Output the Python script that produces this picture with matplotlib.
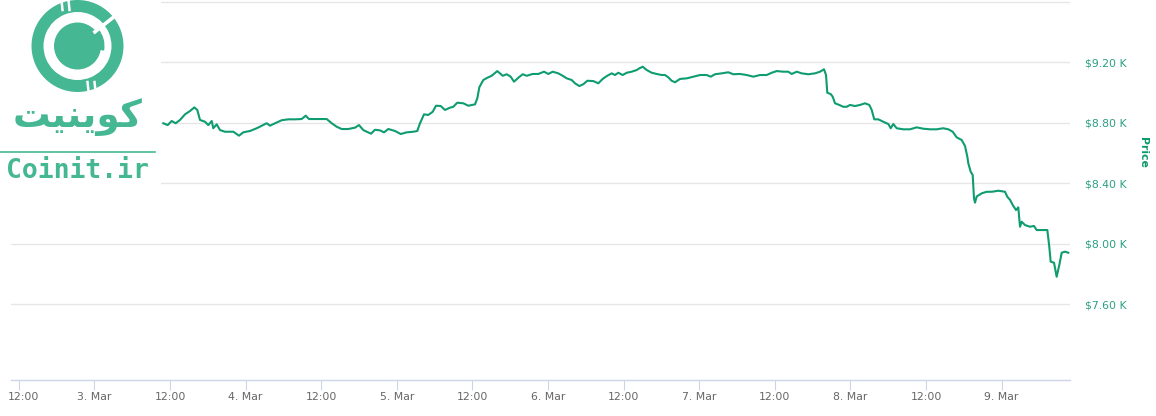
import matplotlib
matplotlib.use('Agg')
import matplotlib.pyplot as plt
import matplotlib.transforms as mtransforms
from matplotlib.patches import Wedge, Circle, Rectangle

# ---------------- data (hours since 2 Mar 2020 00:00, price in thousand USD) ----------
hours = [
    34.94, 35.63, 36.27, 36.90, 37.59, 38.38, 39.17, 39.86, 40.33, 40.76,
    41.56, 42.08, 42.62, 42.87, 43.41, 43.94, 44.73, 46.05, 46.95, 47.63,
    48.70, 49.76, 50.56, 51.35, 51.87, 52.67, 53.73, 54.78, 55.84, 56.90,
    57.54, 58.06, 59.02, 60.08, 60.87, 61.67, 62.46, 63.25, 64.30, 65.37,
    66.00, 66.68, 67.90, 68.54, 69.33, 69.97, 70.65, 71.71, 72.62, 73.57,
    74.62, 75.25, 75.68, 76.32, 77.00, 77.70, 78.22, 78.97, 79.65, 80.44,
    80.97, 81.60, 82.56, 83.35, 84.41, 84.78, 85.10, 85.73, 86.37, 87.06,
    87.95, 88.81, 89.44, 90.08, 90.60, 91.29, 91.98, 92.62, 93.57, 94.46,
    95.37, 96.05, 96.75, 97.63, 98.33, 98.97, 99.76, 100.29, 100.97, 101.60,
    102.24, 103.19, 103.98, 104.68, 105.32, 105.84, 106.11, 106.63, 107.16, 107.86,
    108.49, 109.29, 110.08, 110.49, 111.03, 111.67, 112.46, 113.25, 114.05, 114.57,
    115.09, 115.63, 116.16, 116.95, 118.02, 119.06, 120.13, 121.19, 121.83, 122.51,
    123.57, 124.62, 125.41, 126.48, 127.54, 128.59, 129.65, 130.71, 131.51, 132.30,
    133.35, 134.14, 134.68, 135.48, 136.27, 137.32, 138.38, 139.18, 139.81, 140.13,
    140.33, 140.87, 141.19, 141.56, 142.24, 142.87, 143.41, 143.94, 144.73, 145.52,
    146.32, 147.00, 147.38, 147.79, 148.43, 149.22, 150.02, 150.40, 150.81, 151.35,
    152.40, 153.46, 154.52, 155.57, 156.63, 157.70, 158.74, 159.54, 160.24, 160.87,
    161.67, 162.19, 162.56, 162.72, 163.09, 163.41, 163.62, 163.78, 164.05, 164.85,
    165.64, 166.44, 167.49, 168.54, 168.91, 169.35, 169.76, 170.29, 170.65, 170.92,
    171.19, 171.71, 172.51, 173.14, 173.57, 174.36, 175.26, 175.57, 175.79, 176.32,
    176.74, 177.16, 177.54, 178.06, 178.59,
]
price_k = [
    8.795, 8.783, 8.810, 8.795, 8.817, 8.854, 8.876, 8.900, 8.883, 8.817,
    8.805, 8.783, 8.810, 8.762, 8.788, 8.750, 8.739, 8.739, 8.713, 8.735,
    8.744, 8.762, 8.779, 8.795, 8.779, 8.795, 8.815, 8.821, 8.821, 8.823,
    8.845, 8.823, 8.823, 8.823, 8.823, 8.795, 8.772, 8.757, 8.757, 8.766,
    8.783, 8.750, 8.726, 8.752, 8.748, 8.735, 8.757, 8.744, 8.724, 8.735,
    8.739, 8.744, 8.795, 8.854, 8.850, 8.871, 8.911, 8.909, 8.883, 8.898,
    8.904, 8.931, 8.927, 8.911, 8.920, 8.960, 9.033, 9.081, 9.096, 9.109,
    9.140, 9.109, 9.119, 9.103, 9.070, 9.096, 9.119, 9.109, 9.121, 9.121,
    9.136, 9.121, 9.136, 9.125, 9.109, 9.092, 9.081, 9.059, 9.041, 9.053,
    9.076, 9.074, 9.059, 9.088, 9.107, 9.119, 9.125, 9.114, 9.129, 9.114,
    9.129, 9.136, 9.147, 9.158, 9.169, 9.147, 9.129, 9.121, 9.114, 9.114,
    9.099, 9.076, 9.066, 9.088, 9.092, 9.103, 9.114, 9.114, 9.103, 9.119,
    9.125, 9.132, 9.119, 9.121, 9.114, 9.103, 9.114, 9.114, 9.129, 9.140,
    9.136, 9.136, 9.121, 9.136, 9.125, 9.119, 9.125, 9.136, 9.152, 9.114,
    8.997, 8.988, 8.971, 8.927, 8.916, 8.904, 8.904, 8.916, 8.909, 8.916,
    8.927, 8.916, 8.883, 8.821, 8.821, 8.805, 8.790, 8.762, 8.790, 8.762,
    8.755, 8.755, 8.768, 8.759, 8.755, 8.755, 8.762, 8.755, 8.739, 8.702,
    8.684, 8.645, 8.574, 8.530, 8.475, 8.453, 8.299, 8.270, 8.311, 8.332,
    8.342, 8.342, 8.349, 8.342, 8.309, 8.288, 8.255, 8.221, 8.239, 8.111,
    8.144, 8.122, 8.111, 8.116, 8.089, 8.089, 8.089, 7.979, 7.880, 7.873,
    7.780, 7.858, 7.939, 7.946, 7.939,
]
x_tick_hours = [12, 24, 36, 48, 60, 72, 84, 96, 108, 120, 132, 144, 156, 168]
x_tick_labels = ['12:00', '3. Mar', '12:00', '4. Mar', '12:00', '5. Mar', '12:00',
                 '6. Mar', '12:00', '7. Mar', '12:00', '8. Mar', '12:00', '9. Mar']
y_ticks = [7.6, 8.0, 8.4, 8.8, 9.2, 9.6]
y_tick_labels = [r'\$7.60 K', r'\$8.00 K', r'\$8.40 K', r'\$8.80 K', r'\$9.20 K', '']
axis_title = 'Price'
logo_fa = '\uFE96\uFBFF\uFEE8\uFBFE\uFEEE\uFB90'   # "کوینیت" in visual (LTR) order
logo_en = 'Coinit.ir'

# ---------------- layout ----------------
W, H = 1156, 416
fig = plt.figure(figsize=(W / 100, H / 100), dpi=100)
fig.patch.set_facecolor('white')


def box(x0, y0, x1, y1):
    return [x0 / W, 1 - y1 / H, (x1 - x0) / W, (y1 - y0) / H]


LINE = '#0e9c70'
LOGO = '#45b793'
LABEL = '#2a9f80'

ax = fig.add_axes(box(11, 0, 1069.7, 380))
ax.plot(hours, price_k, color=LINE, lw=1.5, solid_joinstyle='round', zorder=3)
ax.set_xlim(10.76, 178.81)
ax.set_ylim(7.0975, 9.61)

for s in ['left', 'right', 'top']:
    ax.spines[s].set_visible(False)
ax.spines['bottom'].set_color('#ccd6eb')
ax.spines['bottom'].set_linewidth(1)

ax.set_xticks(x_tick_hours)
ax.set_xticklabels(x_tick_labels)
ax.tick_params(axis='x', direction='out', length=7.5, width=0.8, color='#ccd6eb',
               labelsize=7.8, labelcolor='#666666', pad=1)
# first label is nudged inside the chart, as in the reference
first = ax.get_xticklabels()[0]
first.set_transform(first.get_transform() +
                    mtransforms.ScaledTranslation(5 / 100, 0, fig.dpi_scale_trans))

ax.yaxis.tick_right()
ax.set_yticks(y_ticks)
ax.set_yticklabels(y_tick_labels)
ax.tick_params(axis='y', length=0, pad=11, labelsize=7.8, labelcolor=LABEL)
ax.grid(axis='y', color='#e6e6e6', lw=1)
ax.set_axisbelow(True)

fig.text(1143 / W, 1 - 152 / H, axis_title, rotation=270, ha='center', va='center',
         fontsize=7.8, fontweight='bold', color='#0d9a6a')

# ---------------- logo ----------------
lax = fig.add_axes(box(0, 0, 161, 192), zorder=5)
lax.set_xlim(0, 161)
lax.set_ylim(192, 0)
lax.axis('off')
lax.add_patch(Rectangle((0, 0), 161, 192, facecolor='white', edgecolor='none'))
cx, cy = 77.5, 46
lax.add_patch(Wedge((cx, cy), 46, 0, 360, width=12, facecolor=LOGO, edgecolor='none'))
lax.add_patch(Circle((cx, cy), 23.5, facecolor=LOGO, edgecolor='none'))
# C-shaped cut toward the upper right
lax.plot([cx + 16, cx + 40], [cy - 13, cy - 32], color='white', lw=2.6, solid_capstyle='butt')
lax.add_patch(Wedge((cx, cy), 27, -40, 10, width=5, facecolor=LOGO, edgecolor='none'))
# small notches
for dx in (-16, -9):
    lax.plot([cx + dx, cx + dx + 1], [cy - 46, cy - 36], color='white', lw=1.8)
for dx in (10, 17):
    lax.plot([cx + dx, cx + dx + 1], [cy + 36, cy + 45], color='white', lw=1.8)

lax.text(78, 117, logo_fa, fontsize=27, fontweight='bold', color=LOGO,
         ha='center', va='center', family=['DejaVu Sans'])
lax.plot([0, 155], [152, 152], color=LOGO, lw=1.2)
lax.text(77, 171, logo_en, fontsize=19, fontweight='bold', color=LOGO,
         ha='center', va='center', family=['DejaVu Sans Mono'])

fig.savefig('out.png', dpi=100, facecolor='white')
